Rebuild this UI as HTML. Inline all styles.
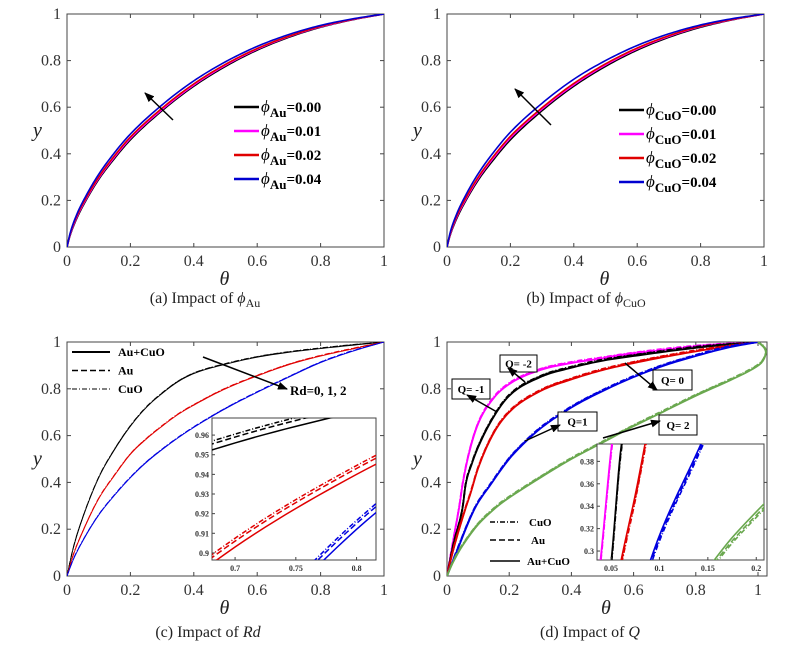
<!DOCTYPE html>
<html><head><meta charset="utf-8"><style>
html,body{margin:0;padding:0;background:#fff;width:811px;height:657px;overflow:hidden}
svg{display:block}
text{font-family:"Liberation Serif",serif}
</style></head><body>
<svg id="fig" width="811" height="657" viewBox="0 0 811 657" xmlns="http://www.w3.org/2000/svg">
<defs>
<marker id="ah" markerWidth="10" markerHeight="8" refX="9" refY="4" orient="auto" markerUnits="userSpaceOnUse"><path d="M0,0 L10,4 L0,8 z" fill="#000"/></marker>
<clipPath id="clipA"><rect x="67" y="14" width="317" height="233"/></clipPath>
<clipPath id="clipB"><rect x="447" y="14" width="317" height="233"/></clipPath>
<clipPath id="clipC"><rect x="67" y="342" width="317" height="234"/></clipPath>
<clipPath id="clipD"><rect x="447" y="342" width="320" height="234"/></clipPath>
<clipPath id="clipCi"><rect x="212" y="418" width="164" height="142"/></clipPath>
<clipPath id="clipDi"><rect x="597" y="444" width="167" height="116"/></clipPath>
</defs>
</svg>
<script>
// ---------- data ----------
const thetaA = [0,0.01,0.03,0.06,0.1,0.15,0.2,0.3,0.4,0.5,0.6,0.7,0.8,0.9,1];
const yAu000 = [0,0.05,0.12,0.2,0.29,0.38,0.46,0.585,0.69,0.775,0.845,0.9,0.943,0.975,1];
const yAu001 = [0,0.053,0.125,0.205,0.295,0.386,0.466,0.59,0.695,0.78,0.849,0.903,0.945,0.976,1];
const yAu002 = [0,0.056,0.13,0.21,0.3,0.392,0.472,0.596,0.7,0.784,0.852,0.905,0.947,0.977,1];
const yAu004 = [0,0.06,0.137,0.22,0.312,0.405,0.485,0.61,0.713,0.795,0.861,0.912,0.951,0.979,1];
const yCuO000 = [0,0.05,0.12,0.2,0.29,0.38,0.46,0.585,0.69,0.775,0.845,0.9,0.943,0.975,1];
const yCuO001 = [0,0.053,0.126,0.206,0.297,0.388,0.468,0.592,0.696,0.781,0.85,0.904,0.946,0.976,1];
const yCuO002 = [0,0.056,0.131,0.212,0.303,0.395,0.475,0.598,0.702,0.786,0.854,0.907,0.948,0.977,1];
const yCuO004 = [0,0.062,0.14,0.225,0.318,0.412,0.493,0.617,0.72,0.8,0.865,0.915,0.953,0.98,1];
const legendA = ["0.00","0.01","0.02","0.04"];
const colorsA = ["#000000","#ff00ff","#e00000","#0000d0"];

const thetaC = [0,0.02,0.05,0.1,0.15,0.2,0.25,0.3,0.35,0.4,0.5,0.6,0.7,0.8,0.9,1];
const yRd0 = [0,0.12,0.25,0.42,0.54,0.64,0.72,0.78,0.83,0.865,0.905,0.935,0.956,0.972,0.986,1];
const yRd1 = [0,0.09,0.19,0.33,0.43,0.52,0.585,0.64,0.69,0.73,0.8,0.855,0.903,0.94,0.97,1];
const yRd2 = [0,0.07,0.15,0.26,0.345,0.42,0.485,0.54,0.59,0.635,0.715,0.785,0.85,0.912,0.96,1];
const fluidShiftC = [0,0.002,0.003];   // Au+CuO, Au, CuO
const fluidNames = ["Au+CuO","Au","CuO"];

const thetaQm2 = [0,0.02,0.04,0.05,0.07,0.1,0.15,0.2,0.3,0.4,0.5,0.6,0.8,1];
const yQm2 =     [0,0.15,0.3,0.39,0.52,0.65,0.76,0.82,0.88,0.91,0.93,0.95,0.98,1];
const thetaQm1 = [0,0.02,0.05,0.06,0.08,0.1,0.15,0.2,0.3,0.4,0.5,0.6,0.8,1];
const yQm1 =     [0,0.13,0.29,0.39,0.48,0.55,0.68,0.77,0.85,0.89,0.92,0.94,0.975,1];
const thetaQ0 = [0,0.02,0.06,0.075,0.1,0.15,0.2,0.3,0.4,0.5,0.6,0.8,1];
const yQ0 =     [0,0.11,0.29,0.35,0.46,0.61,0.7,0.79,0.84,0.88,0.91,0.96,1];
const thetaQ1 = [0,0.03,0.09,0.14,0.2,0.25,0.3,0.4,0.5,0.6,0.7,0.8,0.9,1];
const yQ1 =     [0,0.1,0.29,0.39,0.5,0.57,0.63,0.72,0.79,0.85,0.9,0.94,0.975,1];
const thetaQ2 = [0,0.02,0.05,0.1,0.155,0.2,0.3,0.4,0.5,0.6,0.7,0.8,0.9,0.97,1.01,1.025,1.02,1];
const yQ2 =     [0,0.06,0.13,0.22,0.29,0.335,0.42,0.5,0.57,0.64,0.705,0.77,0.83,0.875,0.91,0.95,0.975,1];
const fluidShiftD = [0,0.003,0.005];
const colorsD = ["#ff00ff","#000000","#e00000","#0000e0","#6aa84f"];

const ticksMain = [0,0.2,0.4,0.6,0.8,1];
const tickLabelsMain = ["0","0.2","0.4","0.6","0.8","1"];
const ticksCix = [0.7,0.75,0.8], ticksCiy = [0.9,0.91,0.92,0.93,0.94,0.95,0.96];
const ticksDix = [0.05,0.1,0.15,0.2], ticksDiy = [0.3,0.32,0.34,0.36,0.38];

// ---------- helpers ----------
const NS="http://www.w3.org/2000/svg", svg=document.getElementById('fig');
function mk(tag,attrs,parent){const e=document.createElementNS(NS,tag);for(const k in attrs)e.setAttribute(k,attrs[k]);(parent||svg).appendChild(e);return e;}
function scale(d0,d1,r0,r1){return v=>r0+(v-d0)/(d1-d0)*(r1-r0);}
function monotone(xs,ys){
  const n=xs.length,d=[],m=new Array(n);
  for(let i=0;i<n-1;i++)d.push((ys[i+1]-ys[i])/(xs[i+1]-xs[i]));
  m[0]=d[0];m[n-1]=d[n-2];
  for(let i=1;i<n-1;i++){m[i]=(d[i-1]*d[i]<=0)?0:(d[i-1]+d[i])/2;}
  for(let i=0;i<n-1;i++){if(d[i]===0){m[i]=m[i+1]=0;continue;}
    const a=m[i]/d[i],b=m[i+1]/d[i],s=a*a+b*b;if(s>9){const t=3/Math.sqrt(s);m[i]=t*a*d[i];m[i+1]=t*b*d[i];}}
  const out=[];
  for(let i=0;i<n-1;i++){const h=xs[i+1]-xs[i];
    for(let k=0;k<12;k++){const t=k/12,t2=t*t,t3=t2*t;
      out.push([xs[i]+t*h,(2*t3-3*t2+1)*ys[i]+(t3-2*t2+t)*h*m[i]+(-2*t3+3*t2)*ys[i+1]+(t3-t2)*h*m[i+1]]);}}
  out.push([xs[n-1],ys[n-1]]);return out;
}
function catmull(pts){
  let d="M"+pts[0][0].toFixed(2)+","+pts[0][1].toFixed(2);
  for(let i=0;i<pts.length-1;i++){
    const p0=pts[i-1]||pts[i],p1=pts[i],p2=pts[i+1],p3=pts[i+2]||p2;
    const c1=[p1[0]+(p2[0]-p0[0])/6,p1[1]+(p2[1]-p0[1])/6];
    const c2=[p2[0]-(p3[0]-p1[0])/6,p2[1]-(p3[1]-p1[1])/6];
    d+="C"+c1.map(v=>v.toFixed(2))+" "+c2.map(v=>v.toFixed(2))+" "+p2[0].toFixed(2)+","+p2[1].toFixed(2);
  }
  return d;
}
function curve(g,xs,ys,sx,sy,color,w,dash,shift){
  const ysh=ys.map((y,i)=>Math.min(1,y+(i>0&&i<ys.length-1?shift:0)));
  let mono=true;for(let i=1;i<xs.length;i++)if(xs[i]<=xs[i-1])mono=false;
  let d;
  if(mono){d=monotone(xs,ysh).map((p,i)=>(i?'L':'M')+sx(p[0]).toFixed(2)+','+sy(p[1]).toFixed(2)).join('');}
  else d=catmull(xs.map((x,i)=>[sx(x),sy(ysh[i])]));
  const p=mk('path',{d:d,fill:'none',stroke:color,'stroke-width':w,'stroke-linejoin':'round'},g);
  if(dash)p.setAttribute('stroke-dasharray',dash);
  return p;
}
function axes(x0,x1,y0,y1,sx,sy,name){
  const g=mk('g',{});
  
  
  ticksMain.forEach((t,i)=>{
    const X=sx(t),Y=sy(t);
    if(X<=x1+0.5){mk('line',{x1:X,x2:X,y1:y1,y2:y1-4,stroke:'#444'},g);mk('line',{x1:X,x2:X,y1:y0,y2:y0+4,stroke:'#444'},g);
      const tx=mk('text',{x:X,y:y1+19,'text-anchor':'middle','font-size':16,fill:'#333'},g);tx.textContent=tickLabelsMain[i];}
    mk('line',{x1:x0,x2:x0+4,y1:Y,y2:Y,stroke:'#444'},g);mk('line',{x1:x1,x2:x1-4,y1:Y,y2:Y,stroke:'#444'},g);
    const ty=mk('text',{x:x0-6,y:Y+5,'text-anchor':'end','font-size':16,fill:'#333'},g);ty.textContent=tickLabelsMain[i];
  });
  mk('rect',{x:x0,y:y0,width:x1-x0,height:y1-y0,fill:'none',stroke:'#444','stroke-width':1},g);
  const yl=mk('text',{x:x0-34,y:(y0+y1)/2+6,'font-size':20,'font-style':'italic',fill:'#222'},g);yl.textContent='y';
  const xl=mk('text',{x:(x0+x1)/2-6,y:y1+38,'font-size':20,'font-style':'italic',fill:'#222'},g);xl.textContent='θ';
}
function arrow(x1,y1,x2,y2,name){const a=mk('line',{x1,y1,x2,y2,stroke:'#000','stroke-width':1.5,'marker-end':'url(#ah)'});
  
  }

// ---------- panels a & b ----------
function phiPanel(x0,x1,sub,series,name,legX,legY,arr){
  const sx=scale(0,1,x0,x1), sy=scale(0,1,247,14);
  axes(x0,x1,14,247,sx,sy,name);
  const g=mk('g',{'clip-path':'url(#clip'+name.slice(-1).toUpperCase()+')'});
  
  
  series.forEach((ys,i)=>{const c=curve(g,thetaA,ys,sx,sy,colorsA[i],1.6,null,0);
    
    });
  arrow(arr[0],arr[1],arr[2],arr[3],name+'-arrow');
  legendA.forEach((l,i)=>{
    const y=legY+i*24;
    const lg=mk('g',{});
    
    
    mk('line',{x1:legX,x2:legX+25,y1:y,y2:y,stroke:colorsA[i],'stroke-width':2.5},lg);
    const t=mk('text',{x:legX+27,y:y+5,'font-size':17,fill:'#000'},lg);
    t.innerHTML='<tspan font-style="italic">ϕ</tspan><tspan font-weight="bold" font-size="13" dy="5">'+sub+'</tspan><tspan font-weight="bold" font-size="15" dy="-5">='+l+'</tspan>';
  });
}
phiPanel(67,384,'Au',[yAu000,yAu001,yAu002,yAu004],'panel-a',234,107,[173,120,145,93]);
phiPanel(447,764,'CuO',[yCuO000,yCuO001,yCuO002,yCuO004],'panel-b',619,110,[551,125,515,89]);

// ---------- panel c ----------
(function(){
  const sx=scale(0,1,67,384), sy=scale(0,1,576,342);
  axes(67,384,342,576,sx,sy,'panel-c');
  const cols=["#000","#e00000","#0000e0"], data=[yRd0,yRd1,yRd2], dashes=[null,"6,3","5,2,1,2"];
  const g=mk('g',{'clip-path':'url(#clipC)'});
  
  
  data.forEach((ys,i)=>fluidShiftC.forEach((s,j)=>{const c=curve(g,thetaC,ys,sx,sy,cols[i],0.9,dashes[j],s);
    
    }));
  fluidNames.forEach((n,j)=>{const y=352+j*18.5;
    const lg=mk('g',{});
    
    
    const l=mk('line',{x1:72,x2:110,y1:y,y2:y,stroke:'#000','stroke-width':[2,1.5,1][j]},lg);
    if(dashes[j])l.setAttribute('stroke-dasharray',dashes[j]);
    const t=mk('text',{x:118,y:y+4,'font-size':12,'font-weight':'bold'},lg);t.textContent=n;});
  arrow(203,357,287,389,'rd-arrow');
  const rt=mk('text',{x:290,y:395,'font-size':13,'font-weight':'bold'});rt.textContent='Rd=0, 1, 2';
  
  
  const ix=scale(0.681,0.816,212,376), iy=scale(0.8964,0.9687,560,418);
  const ig=mk('g',{});
  
  
  mk('rect',{x:212,y:418,width:164,height:142,fill:'#fff',stroke:'#444'},ig);
  const icg=mk('g',{'clip-path':'url(#clipCi)'},ig);
  data.forEach((ys,i)=>fluidShiftC.forEach((s,j)=>curve(icg,thetaC,ys,ix,iy,cols[i],1.5,dashes[j],s*1.5)));
  ticksCix.forEach(t=>{const X=ix(t);mk('line',{x1:X,x2:X,y1:560,y2:557,stroke:'#444'},ig);
    const tt=mk('text',{x:X,y:571,'text-anchor':'middle','font-size':8,'font-weight':'bold',fill:'#333'},ig);tt.textContent=t;});
  ticksCiy.forEach(t=>{const Y=iy(t);mk('line',{x1:212,x2:215,y1:Y,y2:Y,stroke:'#444'},ig);
    const tt=mk('text',{x:209,y:Y+3,'text-anchor':'end','font-size':8,'font-weight':'bold',fill:'#333'},ig);tt.textContent=t;});
})();

// ---------- panel d ----------
(function(){
  const sx=scale(0,1,447,758), sy=scale(0,1,576,342);
  axes(447,767,342,576,sx,sy,'panel-d');
  const xsA=[thetaQm2,thetaQm1,thetaQ0,thetaQ1,thetaQ2], ysA=[yQm2,yQm1,yQ0,yQ1,yQ2];
  const dashes=[null,"6,3","5,2,1,2"], qn=["Q-2","Q-1","Q0","Q1","Q2"];
  const g=mk('g',{'clip-path':'url(#clipD)'});
  
  
  ysA.forEach((ys,i)=>fluidShiftD.forEach((s,j)=>{const c=curve(g,xsA[i],ys,sx,sy,colorsD[i],1.8,dashes[j],s);
    
    }));
  const boxes=[["Q= -2",500,355,37,17],["Q= -1",452,379,38,20],["Q= 0",653,370,39,20],["Q=1",558,412,39,19],["Q= 2",659,415,38,20]];
  boxes.forEach(b=>{const bg=mk('g',{});
    
    
    mk('rect',{x:b[1],y:b[2],width:b[3],height:b[4],fill:'#fff',stroke:'#000'},bg);
    const t=mk('text',{x:b[1]+b[3]/2,y:b[2]+b[4]/2+4,'text-anchor':'middle','font-size':11,'font-weight':'bold'},bg);t.textContent=b[0];});
  arrow(525,382,508,368,'arrow-q-2');arrow(497,412,467,395,'arrow-q-1');arrow(625,363,657,390,'arrow-q0');
  arrow(525,441,560,425,'arrow-q1');arrow(603,438,660,421,'arrow-q2');
  ["CuO","Au","Au+CuO"].forEach((n,k)=>{const y=[522,540,561][k];const dj=[2,1,0][k];
    const lg=mk('g',{});
    
    
    const l=mk('line',{x1:490,x2:520,y1:y,y2:y,stroke:'#000','stroke-width':1.5},lg);
    if(dashes[dj])l.setAttribute('stroke-dasharray',dashes[dj]);
    const t=mk('text',{x:[529,531,527][k],y:y+4,'font-size':11,'font-weight':'bold'},lg);t.textContent=n;});
  const ix=scale(0.0355,0.208,597,764), iy=scale(0.292,0.3955,560,444);
  const ig=mk('g',{});
  
  
  mk('rect',{x:597,y:444,width:167,height:116,fill:'#fff',stroke:'#444'},ig);
  const icg=mk('g',{'clip-path':'url(#clipDi)'},ig);
  ysA.forEach((ys,i)=>fluidShiftD.forEach((s,j)=>curve(icg,xsA[i],ys,ix,iy,colorsD[i],1.6,dashes[j],-s)));
  ticksDix.forEach(t=>{const X=ix(t);mk('line',{x1:X,x2:X,y1:560,y2:557,stroke:'#444'},ig);
    const tt=mk('text',{x:X,y:571,'text-anchor':'middle','font-size':8,'font-weight':'bold',fill:'#333'},ig);tt.textContent=t;});
  ticksDiy.forEach(t=>{const Y=iy(t);mk('line',{x1:597,x2:600,y1:Y,y2:Y,stroke:'#444'},ig);
    const tt=mk('text',{x:594,y:Y+3,'text-anchor':'end','font-size':8,'font-weight':'bold',fill:'#333'},ig);tt.textContent=t;});
})();

// ---------- captions ----------
[["(a) Impact of ","ϕ","Au",205,303,'caption-a'],["(b) Impact of ","ϕ","CuO",586,303,'caption-b'],
 ["(c) Impact of ","Rd","",208,637,'caption-c'],["(d) Impact of ","Q","",590,637,'caption-d']].forEach(c=>{
  const t=mk('text',{x:c[3],y:c[4],'text-anchor':'middle','font-size':16,fill:'#222'});
  
  
  t.innerHTML=c[0]+'<tspan font-style="italic">'+c[1]+'</tspan>'+(c[2]?'<tspan font-size="12" dy="4">'+c[2]+'</tspan>':'');
});
</script>
</body></html>
